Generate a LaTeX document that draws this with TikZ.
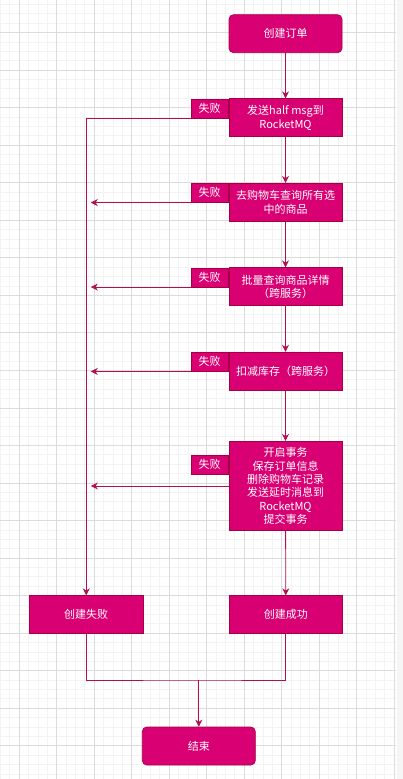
\documentclass[tikz,border=0pt]{standalone}
\usepackage{fontspec}
\newfontfamily\cjk{Noto Sans CJK SC}
\usetikzlibrary{arrows.meta}
\definecolor{boxfill}{HTML}{D80073}
\definecolor{boxline}{HTML}{A50040}
\definecolor{edgec}{HTML}{B0104F}
\definecolor{gridmaj}{HTML}{DCDCDC}
\definecolor{gridmin}{HTML}{F3F3F3}
\definecolor{edgestrip}{HTML}{F6F6F6}
\tikzset{
  procbox/.style={draw=boxline, fill=boxfill, line width=0.7pt, text=white, inner sep=0pt,
    minimum width=113pt, minimum height=38pt, align=center,
    font=\cjk\fontsize{11}{13.3}\selectfont},
  termbox/.style={procbox, rounded corners=4.5pt},
  faillabel/.style={draw=boxline, fill=boxfill, line width=0.5pt, text=white, inner sep=0pt,
    minimum width=37.5pt, minimum height=19pt, font=\cjk\fontsize{11}{13}\selectfont},
  conn/.style={draw=edgec, line width=0.8pt},
  arr/.style={conn, -{Stealth[length=7pt,width=7pt,inset=2.2pt]}}
}
\begin{document}
\begin{tikzpicture}[x=1pt,y=-1pt]
\useasboundingbox (0,0) rectangle (403,779);
\fill[white] (0,0) rectangle (403,779);
% minor grid
\foreach \i in {-2,...,40} {
  \draw[gridmin, line width=0.9pt] ({19.3+9.375*\i},0) -- ({19.3+9.375*\i},779);
}
\foreach \j in {-3,...,80} {
  \draw[gridmin, line width=0.9pt] (0,{32.6+9.385*\j}) -- (396,{32.6+9.385*\j});
}
% major grid
\foreach \i in {-1,...,10} {
  \draw[gridmaj, line width=0.9pt] ({19.3+37.5*\i},0) -- ({19.3+37.5*\i},779);
}
\foreach \j in {-1,...,20} {
  \draw[gridmaj, line width=0.9pt] (0,{32.6+37.54*\j}) -- (396,{32.6+37.54*\j});
}
\fill[edgestrip] (396.5,0) rectangle (403,779);

% nodes
\node[termbox] (start) at (285.5,33.7) {创建订单};
\node[procbox] (b1) at (285.5,117.8) {发送half msg到\\RocketMQ};
\node[procbox] (b2) at (285.5,202.3) {去购物车查询所有选\\中的商品};
\node[procbox] (b3) at (285.5,286.8) {批量查询商品详情\\（跨服务）};
\node[procbox] (b4) at (285.5,371.2) {扣减库存（跨服务）};
\node[procbox, minimum height=89.4pt] (b5) at (285.5,486) {开启事务\\保存订单信息\\删除购物车记录\\发送延时消息到\\RocketMQ\\提交事务};
\node[procbox, minimum width=113.7pt] (fail) at (86.2,614.7) {创建失败};
\node[procbox, minimum width=113.7pt] (ok) at (285.8,614.7) {创建成功};
\node[termbox] (end) at (198.8,746) {结束};

\node[faillabel, anchor=east] (f1) at (b1.west |- 0,108.3) {失败};
\node[faillabel, anchor=east] (f2) at (b2.west |- 0,192.8) {失败};
\node[faillabel, anchor=east] (f3) at (b3.west |- 0,277.3) {失败};
\node[faillabel, anchor=east] (f4) at (b4.west |- 0,361.7) {失败};
\node[faillabel, anchor=east] (f5) at (b5.west |- 0,464.7) {失败};

\coordinate (tipx) at (90.8,0);
\coordinate (merge) at (198.8,680);

% main flow
\draw[arr] (start) -- (b1);
\draw[arr] (b1) -- (b2);
\draw[arr] (b2) -- (b3);
\draw[arr] (b3) -- (b4);
\draw[arr] (b4) -- (b5);
\draw[arr] (b5) -- (ok);

% failure paths
\draw[arr] (f1.south west) -| (fail.north);
\draw[arr] (f2.south west) -- (f2.south west -| tipx);
\draw[arr] (f3.south west) -- (f3.south west -| tipx);
\draw[arr] (f4.south west) -- (f4.south west -| tipx);
\draw[arr] (b5.west) -- (b5.west -| tipx);

% merge
\draw[conn] (fail.south) |- (merge) -| (ok.south);
\draw[arr] (merge) -- (end.north);
\end{tikzpicture}
\end{document}
